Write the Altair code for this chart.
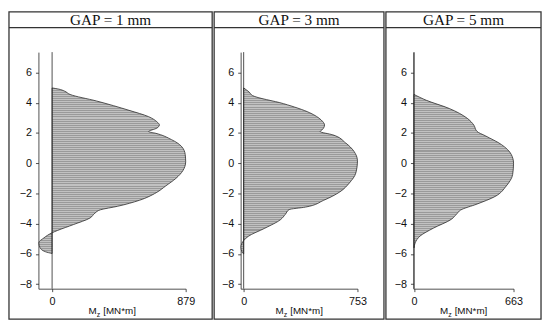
import altair as alt
import pandas as pd

# ---------------- data ----------------
titles = ["GAP = 1 mm", "GAP = 3 mm", "GAP = 5 mm"]
x_max = [879, 753, 663]
x_min = [-90, -20, -4]
y_ticks = [-8, -6, -4, -2, 0, 2, 4, 6]

y_gap1 = [4.98, 4.9, 4.78, 4.55, 4.12, 3.5, 3.08, 2.75, 2.53, 2.32, 2.09, 1.99,
          1.56, 1.13, 0.58, 0.1, -0.5, -1.0, -1.5, -1.95, -2.45, -2.85, -3.08,
          -3.3, -3.62, -4.06, -4.45, -4.6, -4.94, -5.26, -5.58, -5.86, -5.97]
m_gap1 = [0, 45, 80, 118, 291, 506, 635, 689, 706, 689, 635, 678,
          786, 850, 876, 879, 860, 815, 748, 685, 575, 430, 318,
          282, 250, 140, 35, 0, -54, -87, -80, -43, 0]

y_gap3 = [4.98, 4.7, 4.48, 3.94, 3.34, 2.86, 2.53, 2.21, 2.1, 1.88, 1.34, 0.8,
          0.16, -0.65, -1.3, -1.9, -2.45, -2.9, -3.07, -3.38, -3.74, -4.3,
          -4.84, -5.12, -5.55, -5.9, -6.0]
m_gap3 = [0, 37, 58, 264, 437, 513, 535, 519, 506, 589, 675, 729,
          753, 742, 700, 636, 530, 410, 300, 276, 243, 140,
          30, 0, -18, -10, 0]

y_gap5 = [4.55, 4.16, 3.62, 2.97, 2.53, 2.1, 1.82, 1.23, 0.58, 0.0, -0.75,
          -1.5, -2.2, -2.7, -3.1, -3.35, -3.7, -4.3, -4.82, -5.26, -5.6]
m_gap5 = [0, 83, 235, 355, 398, 420, 474, 583, 648, 663, 657,
          615, 540, 420, 310, 285, 250, 128, 40, 8, 0]

ys = [y_gap1, y_gap3, y_gap5]
ms = [m_gap1, m_gap3, m_gap5]

# ---------------- layout / style ----------------
Y_DOMAIN = [-8.3, 7.35]
H = 241
widths = [150, 119, 102]
left_ext = [30, 27, 28]
right_ext = [27, 27, 28]
TOP = 41
HEADER = -25
BOTTOM = 31
FRAME = "#333333"
SANS = "Liberation Sans"


def stripes(height_px):
    n = max(1, round(height_px / 2.0))
    stops = []
    for i in range(n):
        a = round(i / n, 5)
        b = round((i + 0.5) / n, 5)
        c = round((i + 1) / n, 5)
        stops += [alt.GradientStop(color="#9a9a9a", offset=a),
                  alt.GradientStop(color="#9a9a9a", offset=b),
                  alt.GradientStop(color="#c2c2c2", offset=b),
                  alt.GradientStop(color="#c2c2c2", offset=c)]
    return alt.LinearGradient(gradient="linear", stops=stops, x1=0, x2=0, y1=0, y2=1)


def panel(i):
    W = widths[i]
    L = left_ext[i]
    R = right_ext[i]
    df = pd.DataFrame({"y": ys[i], "m": ms[i]})
    one = pd.DataFrame({"a": [0]})
    px_per_unit = H / (Y_DOMAIN[1] - Y_DOMAIN[0])
    bbox_h = (max(ys[i]) - min(ys[i])) * px_per_unit

    xscale = alt.Scale(domain=[x_min[i], x_max[i]], nice=False, zero=False)
    yscale = alt.Scale(domain=Y_DOMAIN, nice=False, zero=False)
    xaxis = alt.Axis(values=[0, x_max[i]], title=None, grid=False, labelFlush=False,
                     domainColor="#222", tickColor="#222", labelColor="#111",
                     labelFont=SANS, labelFontSize=11, tickSize=3, labelPadding=4,
                     format="d", domainWidth=0.8, tickWidth=0.8)
    yaxis = alt.Axis(values=y_ticks, title=None, grid=False,
                     domainColor="#222", tickColor="#222", labelColor="#111",
                     labelFont=SANS, labelFontSize=11, tickSize=3, labelPadding=4,
                     format="d", domainWidth=0.8, tickWidth=0.8)

    area = alt.Chart(df).mark_area(
        orient="horizontal", interpolate="monotone", fill=stripes(bbox_h),
        stroke="#2a2a2a", strokeWidth=0.8
    ).encode(
        x=alt.X("m:Q", scale=xscale, axis=xaxis),
        y=alt.Y("y:Q", scale=yscale, axis=yaxis),
    )
    zero = alt.Chart(one).mark_rule(color="#222", strokeWidth=0.8).encode(
        x=alt.datum(0)
    )
    frame = alt.Chart(one).mark_rect(filled=False, stroke=FRAME, strokeWidth=1.3).encode(
        x=alt.value(-L), x2=alt.value(W + R),
        y=alt.value(-TOP), y2=alt.value(H + BOTTOM),
    )
    header = alt.Chart(one).mark_rule(color=FRAME, strokeWidth=1.3).encode(
        x=alt.value(-L), x2=alt.value(W + R), y=alt.value(HEADER)
    )
    title = alt.Chart(one).mark_text(
        text=titles[i], font="Liberation Serif", fontSize=15.5, color="#111",
        align="center", baseline="middle"
    ).encode(x=alt.value((W + R - L) / 2), y=alt.value((HEADER - TOP) / 2 + 0.5))
    cx = W / 2
    ty = H + 23
    t_m = alt.Chart(one).mark_text(text="M", font=SANS, fontSize=10, color="#111",
                                   align="left", baseline="middle").encode(
        x=alt.value(cx - 24), y=alt.value(ty))
    t_z = alt.Chart(one).mark_text(text="z", font=SANS, fontSize=7, color="#111",
                                   align="left", baseline="middle").encode(
        x=alt.value(cx - 15.5), y=alt.value(ty + 3.5))
    t_u = alt.Chart(one).mark_text(text="[MN*m]", font=SANS, fontSize=10, color="#111",
                                   align="left", baseline="middle").encode(
        x=alt.value(cx - 9), y=alt.value(ty))

    return alt.layer(area, zero, frame, header, title, t_m, t_z, t_u).properties(
        width=W, height=H
    )


chart = alt.hconcat(panel(0), panel(1), panel(2), spacing=0).properties(
    padding=0
).configure_view(strokeWidth=0)

chart.save("out.html", embed_options={"renderer": "svg", "actions": False})
